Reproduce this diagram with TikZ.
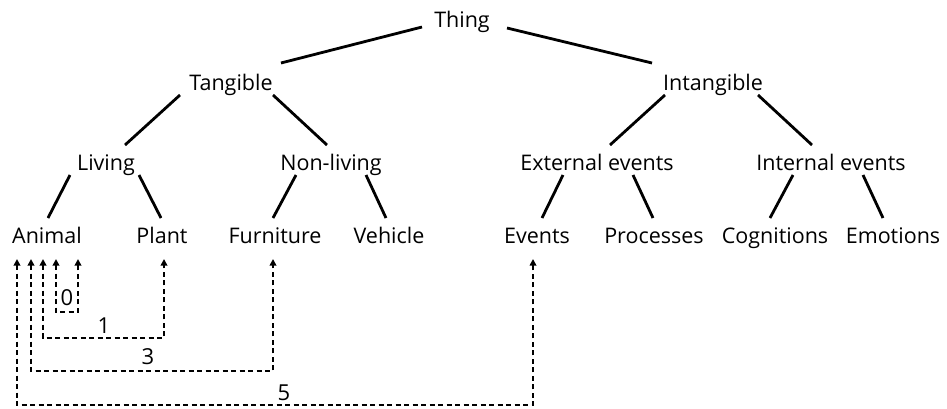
\documentclass[tikz,border=0pt]{standalone}
\usepackage{fontspec}
\setmainfont{Open Sans}
\usetikzlibrary{calc,arrows.meta}
\begin{document}
\begin{tikzpicture}[x=1pt,y=-1pt,
  term/.style={anchor=base,inner sep=0pt,font=\fontsize{21.5}{25}\selectfont},
  branch/.style={line width=2.8pt},
  dist/.style={line width=1.7pt,dash pattern=on 5pt off 3.5pt,
    {Triangle[width=6.5pt,length=6.5pt]}-{Triangle[width=6.5pt,length=6.5pt]}},
  distlabel/.style={inner sep=0pt,font=\fontsize{22}{26}\selectfont}]
\useasboundingbox (0,0) rectangle (947,408);

% taxonomy terms
\node[term] (thing)      at (462,27)  {Thing};
\node[term] (tangible)   at (231,90)  {Tangible};
\node[term] (intangible) at (713,90)  {Intangible};
\node[term] (living)     at (106,170) {Living};
\node[term] (nonliving)  at (331,170) {Non-living};
\node[term] (external)   at (597,170) {External events};
\node[term] (internal)   at (831,170) {Internal events};
\node[term] (animal)     at (47,243)  {Animal};
\node[term] (plant)      at (162,243) {Plant};
\node[term] (furniture)  at (275,243) {Furniture};
\node[term] (vehicle)    at (389,243) {Vehicle};
\node[term] (events)     at (537,243) {Events};
\node[term] (processes)  at (654,243) {Processes};
\node[term] (cognitions) at (775,243) {Cognitions};
\node[term] (emotions)   at (893,243) {Emotions};

% tree branches
\draw[branch] ($(thing.base)+(-40,0)$) -- ($(tangible.base)+(50,-27)$);
\draw[branch] ($(thing.base)+(45,1)$) -- ($(intangible.base)+(-61,-27)$);
\draw[branch] ($(tangible.base)+(-51,5)$) -- ($(living.base)+(19,-25)$);
\draw[branch] ($(tangible.base)+(42,5)$) -- ($(nonliving.base)+(-4,-25)$);
\draw[branch] ($(living.base)+(-36,5)$) -- ($(animal.base)+(1,-25)$);
\draw[branch] ($(living.base)+(33,5)$) -- ($(plant.base)+(-1,-25)$);
\draw[branch] ($(nonliving.base)+(-35,5)$) -- ($(furniture.base)+(-2,-25)$);
\draw[branch] ($(nonliving.base)+(35,5)$) -- ($(vehicle.base)+(-3,-25)$);
\draw[branch] ($(intangible.base)+(-48,5)$) -- ($(external.base)+(13,-25)$);
\draw[branch] ($(intangible.base)+(45,5)$) -- ($(internal.base)+(-19,-25)$);
\draw[branch] ($(external.base)+(-34,5)$) -- ($(events.base)+(5,-25)$);
\draw[branch] ($(external.base)+(36,5)$) -- ($(processes.base)+(-1,-25)$);
\draw[branch] ($(internal.base)+(-38,5)$) -- ($(cognitions.base)+(-5,-25)$);
\draw[branch] ($(internal.base)+(32,5)$) -- ($(emotions.base)+(-10,-25)$);

% end points of the path-distance connectors, just below the terms
\coordinate (a0) at ($(animal.base)+(9,16)$);
\coordinate (b0) at ($(animal.base)+(31,16)$);
\coordinate (a1) at ($(animal.base)+(-4,16)$);
\coordinate (b1) at ($(plant.base)+(2,16)$);
\coordinate (a3) at ($(animal.base)+(-16,16)$);
\coordinate (b3) at ($(furniture.base)+(-2,16)$);
\coordinate (a5) at ($(animal.base)+(-30,16)$);
\coordinate (b5) at ($(events.base)+(-4,16)$);

% path distances from Animal
\draw[dist] (a0) -- (a0 |- 0,312) -| (b0);
\draw[dist] (a1) -- (a1 |- 0,338) -| (b1);
\draw[dist] (a3) -- (a3 |- 0,371) -| (b3);
\draw[dist] (a5) -- (a5 |- 0,405) -| (b5);
\node[distlabel] (n0) at (67,298) {0};
\node[distlabel] (n1) at (104,326) {1};
\node[distlabel] (n3) at (148,357) {3};
\node[distlabel] (n5) at (284,393) {5};
\end{tikzpicture}
\end{document}
